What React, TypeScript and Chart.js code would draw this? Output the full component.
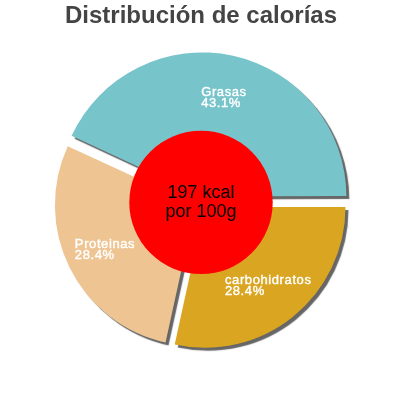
import { useEffect, useRef } from "react"
import { Chart, registerables } from "chart.js"

Chart.register(...registerables)

// clockwise from 3 o'clock
const categories = ["carbohidratos", "Proteinas", "Grasas"]
const shares = [28.4, 28.4, 43.1]
const sliceColors = ["#daa520", "#eec592", "#78c4cb"]
const centerLines = ["197 kcal", "por 100g"]
const chartTitle = "Distribución de calorías"

const FONT = "'Liberation Sans', Arial, Helvetica, sans-serif"

const piePlugin = {
  id: "pieExtras",
  beforeDatasetsDraw(chart: any) {
    const ctx = chart.ctx
    ctx.save()
    ctx.shadowColor = "#666666"
    ctx.shadowOffsetX = 3
    ctx.shadowOffsetY = 3
    ctx.shadowBlur = 1
  },
  afterDatasetsDraw(chart: any) {
    const ctx = chart.ctx
    ctx.restore()

    const arcs = chart.getDatasetMeta(0).data
    if (!arcs.length) return
    const shift = (chart.data.datasets[0].offset || 0) / 4

    // red centre disc
    const { x, y, outerRadius } = arcs[0]
    ctx.save()
    ctx.fillStyle = "#ff0000"
    ctx.beginPath()
    ctx.arc(x, y, outerRadius * 0.51, 0, Math.PI * 2)
    ctx.fill()
    ctx.fillStyle = "#000000"
    ctx.font = `18px ${FONT}`
    ctx.textAlign = "center"
    ctx.textBaseline = "middle"
    ctx.fillText(centerLines[0], x, y - 9)
    ctx.fillText(centerLines[1], x, y + 10)
    ctx.restore()

    // slice labels
    ctx.save()
    ctx.fillStyle = "#ffffff"
    ctx.strokeStyle = "#ffffff"
    ctx.lineWidth = 0.4
    ctx.font = `13px ${FONT}`
    ;(ctx as any).letterSpacing = "0.6px"
    ctx.textAlign = "left"
    ctx.textBaseline = "alphabetic"
    arcs.forEach((arc: any, i: number) => {
      const mid = (arc.startAngle + arc.endAngle) / 2
      const cx = arc.x + Math.cos(mid) * (shift + arc.outerRadius * 0.72)
      const cy = arc.y + Math.sin(mid) * (shift + arc.outerRadius * 0.72)
      const lines = [categories[i], shares[i].toFixed(1) + "%"]
      const w = Math.max(...lines.map((l) => ctx.measureText(l).width))
      const left = cx - w / 2
      lines.forEach((l, k) => {
        ctx.fillText(l, left, cy - 2 + k * 11)
        ctx.strokeText(l, left, cy - 2 + k * 11)
      })
    })
    ctx.restore()
  },
}

export default function App() {
  const chartRef = useRef<HTMLCanvasElement>(null)
  const chartInstance = useRef<Chart | null>(null)

  useEffect(() => {
    if (!chartRef.current) return
    if (chartInstance.current) chartInstance.current.destroy()

    chartInstance.current = new Chart(chartRef.current, {
      type: "pie",
      data: {
        labels: categories,
        datasets: [
          {
            data: shares,
            backgroundColor: sliceColors,
            borderWidth: 0,
            offset: 24,
            hoverOffset: 0,
          },
        ],
      },
      options: {
        responsive: true,
        maintainAspectRatio: false,
        animation: false,
        rotation: 90,
        layout: { padding: { left: 48, right: 46, top: 0, bottom: 45 } },
        events: [],
        plugins: {
          legend: { display: false },
          tooltip: { enabled: false },
          title: {
            display: true,
            text: chartTitle,
            color: "#444444",
            font: { family: FONT, size: 24, weight: "bold" },
            padding: { top: 2, bottom: 19 },
          },
        },
      },
      plugins: [piePlugin],
    })

    return () => {
      if (chartInstance.current) {
        chartInstance.current.destroy()
        chartInstance.current = null
      }
    }
  }, [])

  return (
    <div style={{ position: "absolute", left: 0, top: 0, width: 400, height: 400, background: "#fff" }}>
      <canvas ref={chartRef}></canvas>
    </div>
  )
}
